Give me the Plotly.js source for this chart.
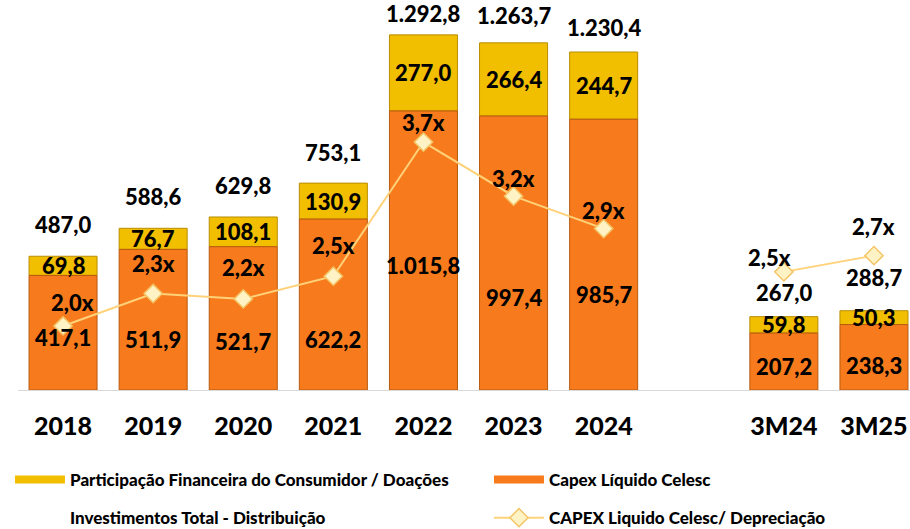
<!DOCTYPE html>
<html>
<head>
<meta charset="utf-8">
<script src="https://cdn.plot.ly/plotly-3.0.1.min.js"></script>
<style>html,body{margin:0;padding:0;background:#fff;}#chart{width:910px;height:529px;}</style>
</head>
<body>
<div id="chart"></div>
<script>
// ---- data ----
const categories = ['2018','2019','2020','2021','2022','2023','2024',' ','3M24','3M25'];
const capexLiquido = [417.1, 511.9, 521.7, 622.2, 1015.8, 997.4, 985.7, null, 207.2, 238.3];
const participacao = [69.8, 76.7, 108.1, 130.9, 277.0, 266.4, 244.7, null, 59.8, 50.3];
const investTotal = [487.0, 588.6, 629.8, 753.1, 1292.8, 1263.7, 1230.4, null, 267.0, 288.7];
const capexDepreciacao = [2.0, 2.3, 2.25, 2.46, 3.7, 3.2, 2.9, null, 2.5, 2.65];
const ratioLabels = ['2,0x','2,3x','2,2x','2,5x','3,7x','3,2x','2,9x','','2,5x','2,7x'];

// ---- label styling offsets (pixels) ----
const capexLabelShift = [-5,-20,-23,-35,-15,-44,-40,0,-5,-8];
const totalLabelShift = [16,16,16,15,6,12,9,0,9,18];
const ratioLabelShiftY = [23,30,31,31,20,18,18,0,14,29];
const ratioLabelShiftX = [9,0,0,0,0,0,0,0,-14,0];

const FONT = 'Lato, "Open Sans", sans-serif';
const YELLOW = '#F2BE00', ORANGE = '#F77B1C';
function fmt(v){
  const s = v.toFixed(1).split('.');
  const intPart = s[0].replace(/\B(?=(\d{3})+(?!\d))/g, '.');
  return intPart + ',' + s[1];
}

const traces = [
  {
    type:'bar', name:'Participação Financeira do Consumidor / Doações',
    x:categories, y:participacao, base:capexLiquido, showlegend:false,
    marker:{color:YELLOW, line:{color:'#B98E00', width:1}}, hoverinfo:'skip'
  },
  {
    type:'bar', name:'Capex Líquido Celesc',
    x:categories, y:capexLiquido, showlegend:false,
    marker:{color:ORANGE, line:{color:'#B85A10', width:1}}, hoverinfo:'skip'
  },
  // legend swatches for the bar series
  {
    type:'scatter', mode:'lines', name:'Participação Financeira do Consumidor / Doações',
    x:[null], y:[null], line:{color:YELLOW, width:8}, legend:'legend', hoverinfo:'skip'
  },
  {
    type:'scatter', mode:'lines', name:'Capex Líquido Celesc',
    x:[null], y:[null], line:{color:ORANGE, width:8}, legend:'legend2', hoverinfo:'skip'
  },
  {
    type:'scatter', mode:'markers', name:'Investimentos Total - Distribuição',
    x:categories, y:investTotal,
    marker:{color:'rgba(0,0,0,0)', size:1},
    legend:'legend3', hoverinfo:'skip'
  },
  {
    type:'scatter', mode:'lines+markers', name:'CAPEX Liquido Celesc/ Depreciação',
    x:categories, y:capexDepreciacao, yaxis:'y2', connectgaps:false,
    line:{color:'#FFD27A', width:2},
    marker:{symbol:'diamond', size:14, color:'#FFF3C6', line:{color:'#F3C567', width:1.5}},
    legend:'legend4', hoverinfo:'skip'
  }
];

const annotations = [];
categories.forEach((c,i)=>{
  if(capexLiquido[i]==null) return;
  const lf = {family:FONT, size:22, color:'#000', weight:900};
  annotations.push({x:i, y:capexLiquido[i]/2, xref:'x', yref:'y', text:fmt(capexLiquido[i]),
    showarrow:false, font:lf, yshift:capexLabelShift[i]});
  annotations.push({x:i, y:capexLiquido[i]+participacao[i]/2, xref:'x', yref:'y', text:fmt(participacao[i]),
    showarrow:false, font:lf});
  annotations.push({x:i, y:investTotal[i], xref:'x', yref:'y', text:fmt(investTotal[i]),
    showarrow:false, font:lf, yanchor:'bottom', yshift:totalLabelShift[i]});
  annotations.push({x:i, y:capexDepreciacao[i], xref:'x', yref:'y2', text:ratioLabels[i],
    showarrow:false, font:lf, yshift:ratioLabelShiftY[i], xshift:ratioLabelShiftX[i]});
});

function leg(x, y){
  return {orientation:'h', x:x, xanchor:'left', y:y, yanchor:'top', itemwidth:50,
    font:{family:FONT, size:17, color:'#000', weight:900}, bgcolor:'rgba(0,0,0,0)'};
}

const layout = {
  width:910, height:529,
  margin:{l:18, r:0, t:5, b:139, autoexpand:false},
  paper_bgcolor:'#fff', plot_bgcolor:'#fff',
  barmode:'overlay', bargap:0.245,
  font:{family:FONT, color:'#000'},
  xaxis:{type:'category', range:[-0.5, 9.4], showline:true, linecolor:'#D9D9D9', linewidth:1,
    ticks:'', ticklabelstandoff:14, tickfont:{family:FONT, size:25, color:'#000', weight:900},
    showgrid:false, zeroline:false, fixedrange:true},
  yaxis:{range:[0, 1401.5], visible:false, showgrid:false, zeroline:false},
  yaxis2:{range:[1.408, 4.967], overlaying:'y', visible:false, showgrid:false, zeroline:false},
  showlegend:true,
  legend:leg(-0.009, -0.187),
  legend2:leg(0.528, -0.187),
  legend3:leg(-0.009, -0.286),
  legend4:leg(0.528, -0.286),
  annotations:annotations
};

Plotly.newPlot('chart', traces, layout, {displayModeBar:false, staticPlot:true});
</script>
</body>
</html>
